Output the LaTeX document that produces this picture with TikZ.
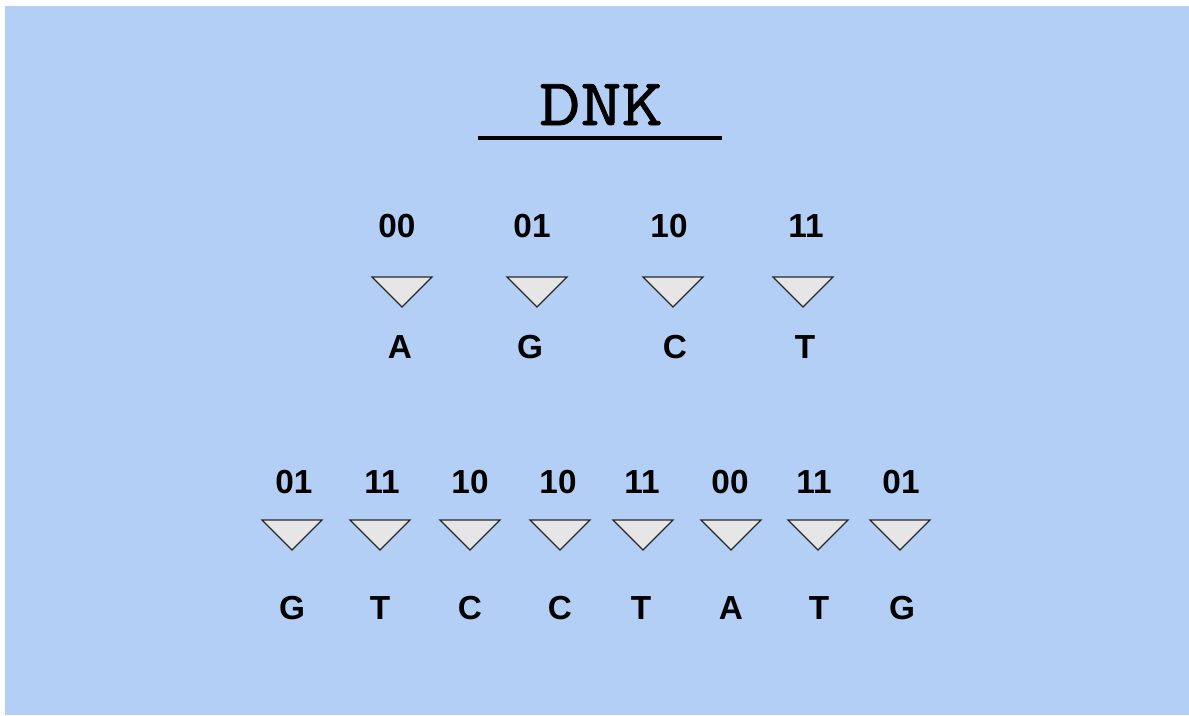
\documentclass[tikz,border=0pt]{standalone}
\usepackage{fontspec}
\setmainfont{Liberation Sans}
\newfontfamily\titlefont[FakeBold=1.2,FakeStretch=1.2]{Latin Modern Mono}
\definecolor{bgblue}{RGB}{179,207,246}
\definecolor{trifill}{RGB}{230,230,230}
\definecolor{tristroke}{RGB}{40,40,40}
\begin{document}
\begin{tikzpicture}[x=0.75pt,y=-0.75pt,
  lbl/.style={anchor=base,inner sep=0pt,font=\fontsize{25}{28}\selectfont\bfseries},
  tri/.style={fill=trifill,draw=tristroke,line width=0.9pt,line join=miter}]
\useasboundingbox (0,0) rectangle (1189,715);
\fill[bgblue] (5,6) rectangle (1189,715);
% title
\node[anchor=base,inner sep=0pt,font=\fontsize{50}{60}\titlefont] (title) at (601,125) {DNK};
\draw[line width=2.4pt] (478,138) -- (722,138);
% row 1
\foreach \i/\dx/\tx/\lx/\d/\l in {1/397/402/400/00/A, 2/532/537/530/01/G, 3/669/673/675/10/C, 4/806/803/805/11/T}{
  \node[lbl] (d1\i) at (\dx,237) {\d};
  \draw[tri] (\tx-30,277) -- (\tx+30,277) -- (\tx,307) -- cycle;
  \node[lbl] (l1\i) at (\lx,358) {\l};
}
% row 2
\foreach \i/\dx/\tx/\lx/\d/\l in {1/294/292/292/01/G, 2/382/380/380/11/T, 3/470/470/470/10/C, 4/558/560/560/10/C, 5/642/643/641/11/T, 6/730/731/731/00/A, 7/814/818/819/11/T, 8/901/900/902/01/G}{
  \node[lbl] (d2\i) at (\dx,493) {\d};
  \draw[tri] (\tx-30,520) -- (\tx+30,520) -- (\tx,550) -- cycle;
  \node[lbl] (l2\i) at (\lx,619) {\l};
}
\end{tikzpicture}
\end{document}
